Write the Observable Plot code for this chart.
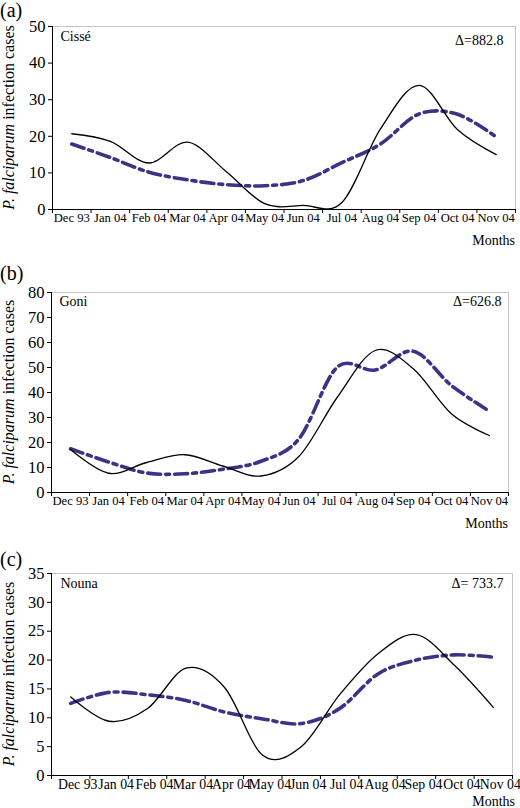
<!DOCTYPE html>
<html><head><meta charset="utf-8">
<script src="https://cdn.jsdelivr.net/npm/d3@7"></script>
<script src="https://cdn.jsdelivr.net/npm/@observablehq/plot@0.6"></script>
<style>
body{margin:0;background:#fff;}
#chart{position:relative;width:520px;height:808px;overflow:hidden;background:#fff;}
#chart svg{position:absolute;left:0;}
</style></head><body><div id="chart"></div>
<script>
// ---- data ----
const months = ["Dec 93","Jan 04","Feb 04","Mar 04","Apr 04","May 04","Jun 04","Jul 04","Aug 04","Sep 04","Oct 04","Nov 04"];

const cisseSolid   = [20.7, 18.6, 12.7, 18.4, 10.4, 1.6, 1.1, 1.9, 22.0, 33.9, 21.8, 15.0];
const cisseDashDot = [17.9, 14.2, 10.2, 8.1, 6.8, 6.5, 7.9, 12.8, 17.9, 26.1, 26.0, 19.8];

const goniSolid    = [17.2, 7.7, 12.0, 15.1, 10.6, 6.6, 14.5, 38.0, 56.8, 49.5, 31.5, 22.8];
const goniDashDot  = [17.5, 12.2, 7.8, 7.5, 9.3, 12.5, 21.5, 50.1, 49.0, 56.5, 42.8, 32.5];

const nounaSolid   = [13.6, 9.4, 11.6, 18.6, 15.3, 3.5, 5.0, 14.0, 21.1, 24.4, 19.0, 11.8];
const nounaDashDot = [12.5, 14.4, 14.0, 13.0, 11.0, 9.8, 9.0, 11.6, 17.6, 20.0, 20.9, 20.5];

const panelLabels = ["(a)", "(b)", "(c)"];
const siteNames = ["Cissé", "Goni", "Nouna"];
const deltas = ["Δ=882.8", "Δ=626.8", "Δ= 733.7"];
const yMaxes = [50, 80, 35];
const ySteps = [10, 10, 5];
const xTitle = "Months";
const yTitleItalic = "P. falciparum";
const yTitleRest = " infection cases";

// ---- drawing ----
const FONT = '"Liberation Serif", serif';
const DASH_COLOR = "#3b3486";

const layouts = [
  {top: 0,   height: 255, mt: 26, mb: 46, ml: 52, mr: 5,  labelBase: 17, monthsBase: 245, monthsRight: 515, tickFont: 12.6, labelDx: 0, siteDx: 8, siteDy: 5, deltaDx: -12, deltaDy: 9},
  {top: 262, height: 275, mt: 30, mb: 45, ml: 51, mr: 12, labelBase: 18, monthsBase: 266, monthsRight: 508, tickFont: 12.6, labelDx: 0, siteDx: 8, siteDy: 4, deltaDx: -7, deltaDy: 4},
  {top: 545, height: 263, mt: 28, mb: 33, ml: 51, mr: 8,  labelBase: 21, monthsBase: 261, monthsRight: 515, tickFont: 13.8, labelDx: 7, siteDx: 9, siteDy: 5, deltaDx: -9, deltaDy: 5}
];

const series = [
  [cisseSolid, cisseDashDot],
  [goniSolid, goniDashDot],
  [nounaSolid, nounaDashDot]
];

const n = months.length;
const bounds = d3.range(n + 1).map(k => k - 0.5);
const container = document.getElementById("chart");

layouts.forEach((L, p) => {
  const [solid, dashDot] = series[p];
  const solidData = solid.map((v, i) => ({i, v}));
  const dashData = dashDot.map((v, i) => ({i, v}));
  const yTicks = d3.range(0, yMaxes[p] + 0.001, ySteps[p]);

  const svg = Plot.plot({
    width: 520,
    height: L.height,
    marginTop: L.mt, marginBottom: L.mb, marginLeft: L.ml, marginRight: L.mr,
    style: {fontFamily: FONT, fontSize: "14px", color: "#000", background: "transparent", overflow: "visible"},
    x: {domain: [-0.5, n - 0.5]},
    y: {domain: [0, yMaxes[p]]},
    marks: [
      Plot.frame({stroke: "#c4c4c4", strokeWidth: 1}),
      Plot.axisX({ticks: bounds, tickSize: 4, tickFormat: () => "", label: null, stroke: "#000"}),
      Plot.axisX({ticks: d3.range(n), tickSize: 0, tickPadding: 4, tickFormat: i => months[i], label: null, fontSize: L.tickFont, dx: L.labelDx, fill: "#000"}),
      Plot.axisY({ticks: yTicks, tickSize: 4, tickPadding: 3, label: null, fontSize: 16.5, fill: "#000", stroke: "#000"}),
      Plot.ruleX([-0.5], {stroke: "#000", strokeWidth: 1}),
      Plot.ruleY([0], {stroke: "#000", strokeWidth: 1}),
      Plot.line(dashData, {x: "i", y: "v", curve: "cardinal", stroke: DASH_COLOR, strokeWidth: 3.6, strokeDasharray: "13,5,4,5"}),
      Plot.line(solidData, {x: "i", y: "v", curve: "cardinal", stroke: "#000", strokeWidth: 1.3}),
      Plot.text([siteNames[p]], {frameAnchor: "top-left", textAnchor: "start", lineAnchor: "top", dx: L.siteDx, dy: L.siteDy, fontSize: 14, fill: "#000"}),
      Plot.text([deltas[p]], {frameAnchor: "top-right", textAnchor: "end", lineAnchor: "top", dx: L.deltaDx, dy: L.deltaDy, fontSize: 14, fill: "#000"})
    ]
  });
  svg.style.top = L.top + "px";
  container.appendChild(svg);

  const s = d3.select(svg);
  s.append("text")
    .attr("x", 0).attr("y", L.labelBase)
    .attr("text-anchor", "start")
    .attr("font-family", FONT).attr("font-size", 20).attr("fill", "#000")
    .text(panelLabels[p]);
  s.append("text")
    .attr("x", L.monthsRight).attr("y", L.monthsBase)
    .attr("text-anchor", "end")
    .attr("font-family", FONT).attr("font-size", 14).attr("fill", "#000")
    .text(xTitle);
  const cy = L.mt + (L.height - L.mt - L.mb) / 2;
  const t = s.append("text")
    .attr("transform", `translate(14,${cy}) rotate(-90)`)
    .attr("text-anchor", "middle")
    .attr("font-family", FONT).attr("font-size", 16).attr("fill", "#000");
  t.append("tspan").attr("font-style", "italic").text(yTitleItalic);
  t.append("tspan").text(yTitleRest);
});
</script>
</body></html>
